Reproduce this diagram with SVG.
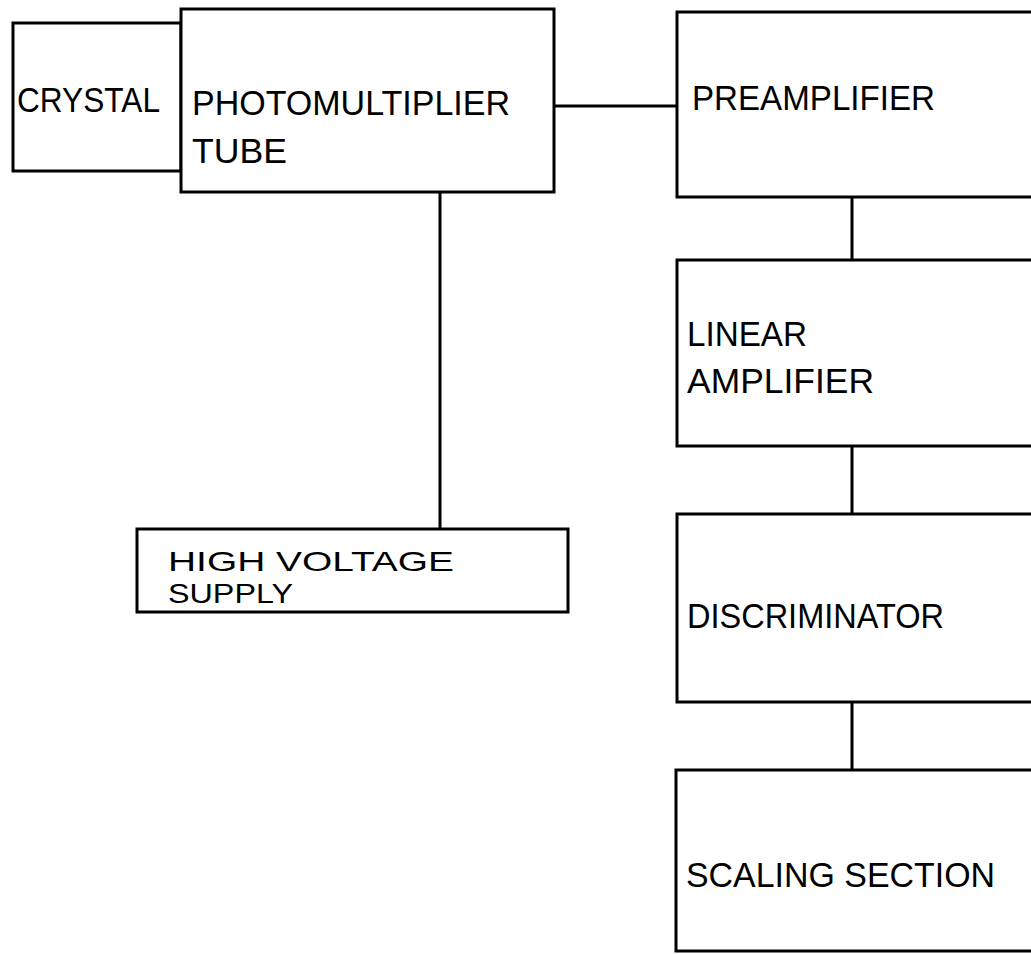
<svg xmlns="http://www.w3.org/2000/svg" width="1031" height="954" viewBox="0 0 1031 954">
<style>
.box{fill:#fff;stroke:#000;stroke-width:3}
.ln{stroke:#000;stroke-width:3;fill:none}
text{font-family:"Liberation Sans",Arial,sans-serif;font-size:35px;fill:#000}
.s{font-size:28px}
</style>
<rect width="1031" height="954" fill="#fff"/>
<g id="connectors">
<line class="ln" x1="554" y1="106" x2="677" y2="106"/>
<line class="ln" x1="440" y1="192" x2="440" y2="529"/>
<line class="ln" x1="852" y1="197" x2="852" y2="260"/>
<line class="ln" x1="852" y1="446" x2="852" y2="514"/>
<line class="ln" x1="852" y1="702" x2="852" y2="770"/>
</g>
<g id="crystal">
<rect class="box" x="13" y="23" width="168" height="148"/>
<text x="17" y="112" textLength="143" lengthAdjust="spacingAndGlyphs">CRYSTAL</text>
</g>
<g id="pmt">
<rect class="box" x="181" y="9" width="373" height="183"/>
<text x="192" y="115" textLength="318" lengthAdjust="spacingAndGlyphs">PHOTOMULTIPLIER</text>
<text x="192" y="163" textLength="95" lengthAdjust="spacingAndGlyphs">TUBE</text>
</g>
<g id="preamp">
<rect class="box" x="677" y="12" width="370" height="185"/>
<text x="692" y="110" textLength="243" lengthAdjust="spacingAndGlyphs">PREAMPLIFIER</text>
</g>
<g id="linear">
<rect class="box" x="677" y="260" width="370" height="186"/>
<text x="687" y="346" textLength="120" lengthAdjust="spacingAndGlyphs">LINEAR</text>
<text x="687" y="393" textLength="187" lengthAdjust="spacingAndGlyphs">AMPLIFIER</text>
</g>
<g id="hv">
<rect class="box" x="137" y="529" width="431" height="83"/>
<text class="s" x="168" y="571" textLength="286" lengthAdjust="spacingAndGlyphs">HIGH  VOLTAGE</text>
<text class="s" x="168" y="603" textLength="125" lengthAdjust="spacingAndGlyphs">SUPPLY</text>
</g>
<g id="disc">
<rect class="box" x="677" y="514" width="370" height="188"/>
<text x="687" y="628" textLength="257" lengthAdjust="spacingAndGlyphs">DISCRIMINATOR</text>
</g>
<g id="scaling">
<rect class="box" x="676" y="770" width="371" height="181"/>
<text x="686" y="887" textLength="309" lengthAdjust="spacingAndGlyphs">SCALING  SECTION</text>
</g>
</svg>
